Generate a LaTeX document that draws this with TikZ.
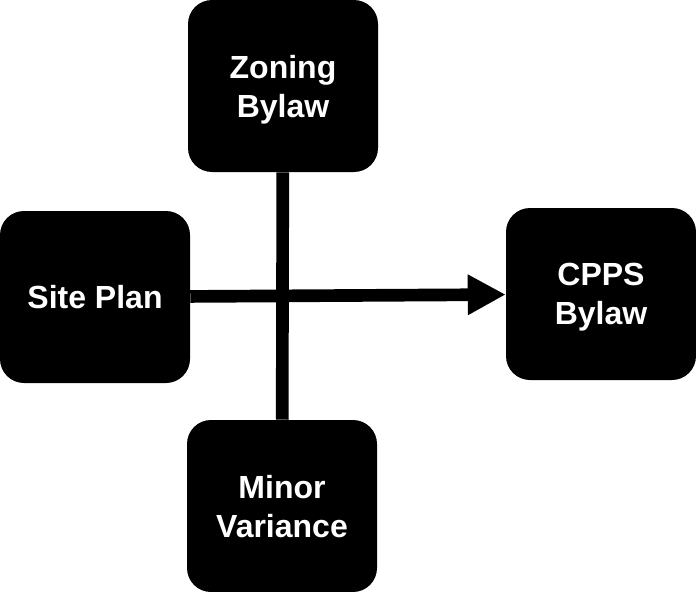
\documentclass[tikz,border=0pt]{standalone}
\usepackage{fontspec}
\setmainfont{Liberation Sans}
\usetikzlibrary{arrows.meta}

\begin{document}
\begin{tikzpicture}[x=0.75pt,y=-0.75pt,doc/.style={rectangle,rounded corners=18pt,fill=black,text=white,minimum width=142.5pt,minimum height=129pt,inner sep=0pt,text depth=0pt,align=center,font=\fontsize{24}{29.25}\selectfont\bfseries},link/.style={line width=9.5pt}]
\useasboundingbox (0,0) rectangle (696,592);
\coordinate (Z) at (283,86);
\coordinate (S) at (95,297);
\coordinate (C) at (601,294);
\coordinate (M) at (282,506);
\node[doc] (zoning) at (Z) {Zoning\\Bylaw};
\node[doc] (site) at (S) {Site Plan};
\node[doc] (cpps) at (C) {CPPS\\Bylaw};
\node[doc] (minor) at (M) {Minor\\Variance};
\draw[link] (zoning) -- (minor);
\draw[link,-{Triangle[length=28.5pt,width=28.5pt]}] (site) -- (cpps);
\end{tikzpicture}
\end{document}
